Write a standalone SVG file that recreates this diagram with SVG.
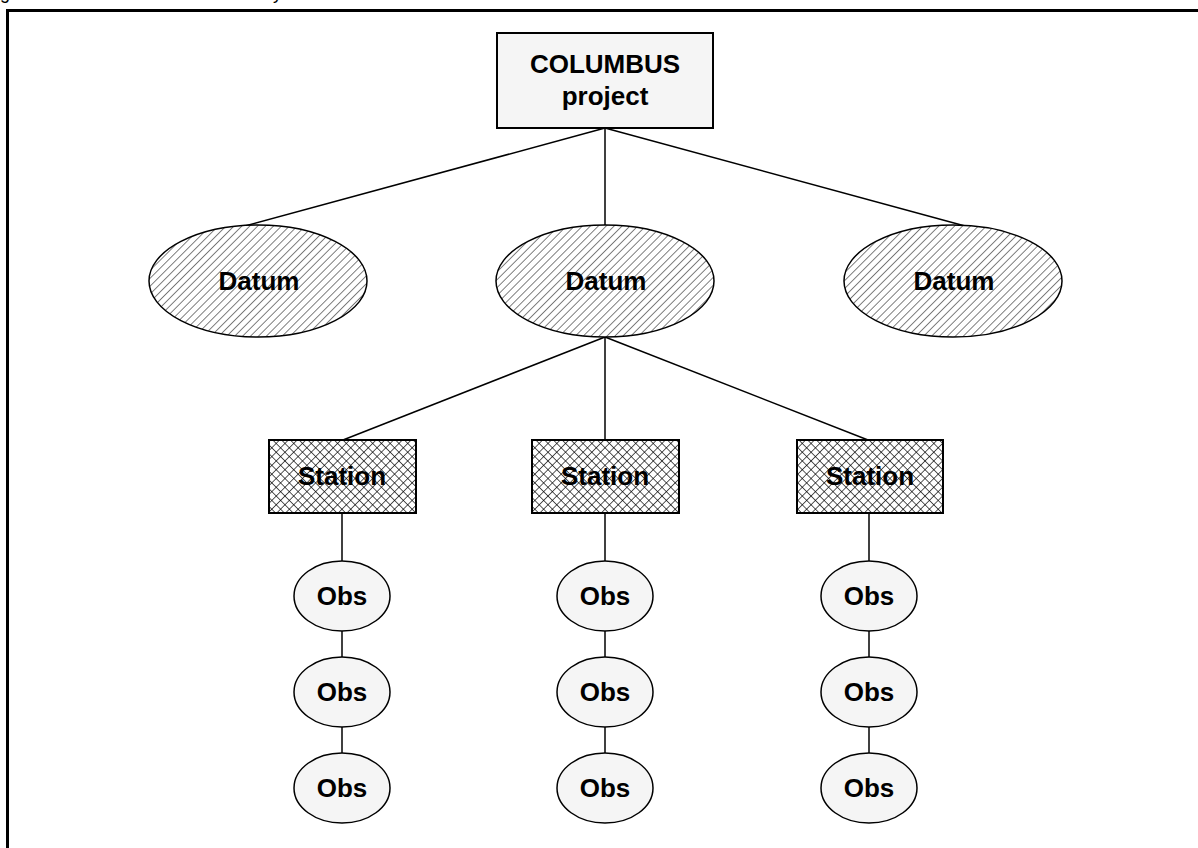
<svg xmlns="http://www.w3.org/2000/svg" width="1198" height="848" viewBox="0 0 1198 848">
<style>
  .lbl { font-family: "Liberation Sans", Arial, sans-serif; font-weight: bold; font-size: 26px; fill: #000; text-anchor: middle; }
  .cap { font-family: "Liberation Sans", Arial, sans-serif; font-size: 18px; fill: #000; }
  .edge { stroke: #000; stroke-width: 1.5; fill: none; }
  .frame { stroke: #000; stroke-width: 3; fill: none; }
  .proj { fill: #f5f5f5; stroke: #000; stroke-width: 2; }
  .datum { fill: url(#hatch); stroke: #000; stroke-width: 1.5; }
  .station { fill: url(#cross); stroke: #000; stroke-width: 2; }
  .obs { fill: #f5f5f5; stroke: #000; stroke-width: 1.5; }
</style>
<defs>
  <pattern id="hatch" patternUnits="userSpaceOnUse" width="5.6" height="5.6" patternTransform="rotate(45)">
    <rect width="5.6" height="5.6" fill="#fff"/>
    <line x1="0" y1="0" x2="0" y2="5.6" stroke="#000" stroke-width="1"/>
  </pattern>
  <pattern id="cross" patternUnits="userSpaceOnUse" width="6.2" height="6.2" patternTransform="rotate(45)">
    <rect width="6.2" height="6.2" fill="#fff"/>
    <line x1="0" y1="0" x2="0" y2="6.2" stroke="#000" stroke-width="1.3"/>
    <line x1="0" y1="0" x2="6.2" y2="0" stroke="#000" stroke-width="1.3"/>
  </pattern>
</defs>
<rect width="1198" height="848" fill="#fff"/>
<text class="cap" x="-15" y="-1">Figure 1: COLUMBUS data hierarchy</text>
<rect class="frame" x="7.5" y="10.5" width="1200" height="850"/>

<g id="connectors">
  <line class="edge" x1="605" y1="128" x2="245" y2="226"/>
  <line class="edge" x1="605" y1="128" x2="605" y2="225"/>
  <line class="edge" x1="605" y1="128" x2="965" y2="226"/>
  <line class="edge" x1="605" y1="337" x2="343" y2="440"/>
  <line class="edge" x1="605" y1="337" x2="605" y2="440"/>
  <line class="edge" x1="605" y1="337" x2="868" y2="440"/>
  <line class="edge" x1="342" y1="513" x2="342" y2="561"/>
  <line class="edge" x1="342" y1="631" x2="342" y2="657"/>
  <line class="edge" x1="342" y1="727" x2="342" y2="753"/>
  <line class="edge" x1="605" y1="513" x2="605" y2="561"/>
  <line class="edge" x1="605" y1="631" x2="605" y2="657"/>
  <line class="edge" x1="605" y1="727" x2="605" y2="753"/>
  <line class="edge" x1="869" y1="513" x2="869" y2="561"/>
  <line class="edge" x1="869" y1="631" x2="869" y2="657"/>
  <line class="edge" x1="869" y1="727" x2="869" y2="753"/>
</g>

<g id="project">
  <rect class="proj" x="497" y="33" width="216" height="95"/>
  <text class="lbl" x="605" y="73">COLUMBUS</text>
  <text class="lbl" x="605" y="105">project</text>
</g>

<g id="datum1"><ellipse class="datum" cx="258" cy="281" rx="109" ry="56"/><text class="lbl" x="259" y="290">Datum</text></g>
<g id="datum2"><ellipse class="datum" cx="605" cy="281" rx="109" ry="56"/><text class="lbl" x="606" y="290">Datum</text></g>
<g id="datum3"><ellipse class="datum" cx="953" cy="281" rx="109" ry="56"/><text class="lbl" x="954" y="290">Datum</text></g>

<g id="station1"><rect class="station" x="269" y="440" width="147" height="73"/><text class="lbl" x="342" y="485">Station</text></g>
<g id="station2"><rect class="station" x="532" y="440" width="147" height="73"/><text class="lbl" x="605" y="485">Station</text></g>
<g id="station3"><rect class="station" x="797" y="440" width="146" height="73"/><text class="lbl" x="870" y="485">Station</text></g>

<g id="obs1a"><ellipse class="obs" cx="342" cy="596" rx="48" ry="35"/><text class="lbl" x="342" y="605">Obs</text></g>
<g id="obs1b"><ellipse class="obs" cx="342" cy="692" rx="48" ry="35"/><text class="lbl" x="342" y="701">Obs</text></g>
<g id="obs1c"><ellipse class="obs" cx="342" cy="788" rx="48" ry="35"/><text class="lbl" x="342" y="797">Obs</text></g>
<g id="obs2a"><ellipse class="obs" cx="605" cy="596" rx="48" ry="35"/><text class="lbl" x="605" y="605">Obs</text></g>
<g id="obs2b"><ellipse class="obs" cx="605" cy="692" rx="48" ry="35"/><text class="lbl" x="605" y="701">Obs</text></g>
<g id="obs2c"><ellipse class="obs" cx="605" cy="788" rx="48" ry="35"/><text class="lbl" x="605" y="797">Obs</text></g>
<g id="obs3a"><ellipse class="obs" cx="869" cy="596" rx="48" ry="35"/><text class="lbl" x="869" y="605">Obs</text></g>
<g id="obs3b"><ellipse class="obs" cx="869" cy="692" rx="48" ry="35"/><text class="lbl" x="869" y="701">Obs</text></g>
<g id="obs3c"><ellipse class="obs" cx="869" cy="788" rx="48" ry="35"/><text class="lbl" x="869" y="797">Obs</text></g>
</svg>
